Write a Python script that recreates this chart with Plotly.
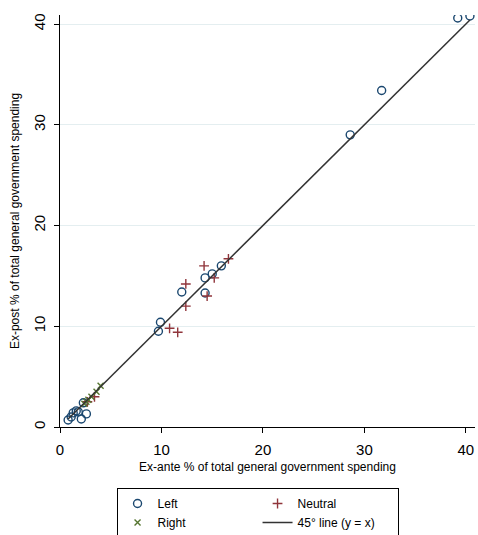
import plotly.graph_objects as go

# Left (hollow circles)
left_x = [0.8, 1.1, 1.3, 1.6, 1.8, 2.1, 2.6, 2.3, 9.7, 9.9, 12.0, 14.3, 14.3, 15.0, 15.9, 28.6, 31.7, 39.2, 40.4]
left_y = [0.7, 1.0, 1.4, 1.6, 1.5, 0.8, 1.3, 2.4, 9.5, 10.4, 13.4, 13.3, 14.8, 15.2, 16.0, 29.0, 33.4, 40.6, 40.8]
# Neutral (plus)
neu_x = [2.7, 3.4, 10.8, 11.6, 12.4, 12.4, 14.2, 14.5, 15.2, 16.6]
neu_y = [2.5, 3.0, 9.8, 9.4, 12.0, 14.2, 16.0, 13.0, 14.8, 16.7]
# Right (x)
right_x = [2.4, 2.6, 2.8, 3.1, 3.6, 4.0]
right_y = [2.3, 2.5, 2.7, 3.0, 3.5, 4.1]

all_x = left_x + neu_x + right_x
line_x = [min(all_x), max(all_x)]
line_y = line_x

fig = go.Figure()
fig.add_trace(go.Scatter(x=left_x, y=left_y, mode="markers", name="Left",
                         marker=dict(symbol="circle-open", size=8, color="#1a476f", line=dict(width=1.4))))
fig.add_trace(go.Scatter(x=neu_x, y=neu_y, mode="markers", name="Neutral",
                         marker=dict(symbol="cross-thin-open", size=7, color="#90353b", line=dict(width=1.4, color="#90353b"))))
fig.add_trace(go.Scatter(x=right_x, y=right_y, mode="markers", name="Right",
                         marker=dict(symbol="x-thin-open", size=6, color="#55752f", line=dict(width=1.4, color="#55752f"))))
fig.add_trace(go.Scatter(x=line_x, y=line_y, mode="lines", name="45° line (y = x)",
                         line=dict(color="#333333", width=1.5)))

font = "Liberation Sans, Arial, sans-serif"
fig.update_layout(
    width=478, height=535,
    margin=dict(l=60, r=3, t=15, b=108, autoexpand=False),
    paper_bgcolor="white", plot_bgcolor="white",
    font=dict(family=font, color="black"),
    xaxis=dict(range=[0, 40.9], tickvals=[0, 10, 20, 30, 40], showgrid=False, zeroline=False,
               showline=True, linecolor="black", linewidth=1, ticks="outside", ticklen=5,
               tickcolor="black", tickfont=dict(size=15), ticklabelstandoff=4,
               title=dict(text="Ex-ante % of total general government spending", font=dict(size=12), standoff=5)),
    yaxis=dict(range=[0, 40.9], tickvals=[0, 10, 20, 30, 40], showgrid=True, gridcolor="#e4eef0",
               zeroline=False, showline=True, linecolor="black", linewidth=1, ticks="outside",
               ticklen=5, tickcolor="black", tickangle=-90, tickfont=dict(size=15), ticklabelstandoff=3,
               title=dict(text="Ex-post % of total general government spending", font=dict(size=12), standoff=8)),
    legend=dict(orientation="h", x=0.476, xanchor="center", y=-0.148, yanchor="top",
                bordercolor="black", borderwidth=1, font=dict(size=12),
                entrywidth=95, itemwidth=30, traceorder="normal"),
    showlegend=True,
)

fig.write_html("out.html")
